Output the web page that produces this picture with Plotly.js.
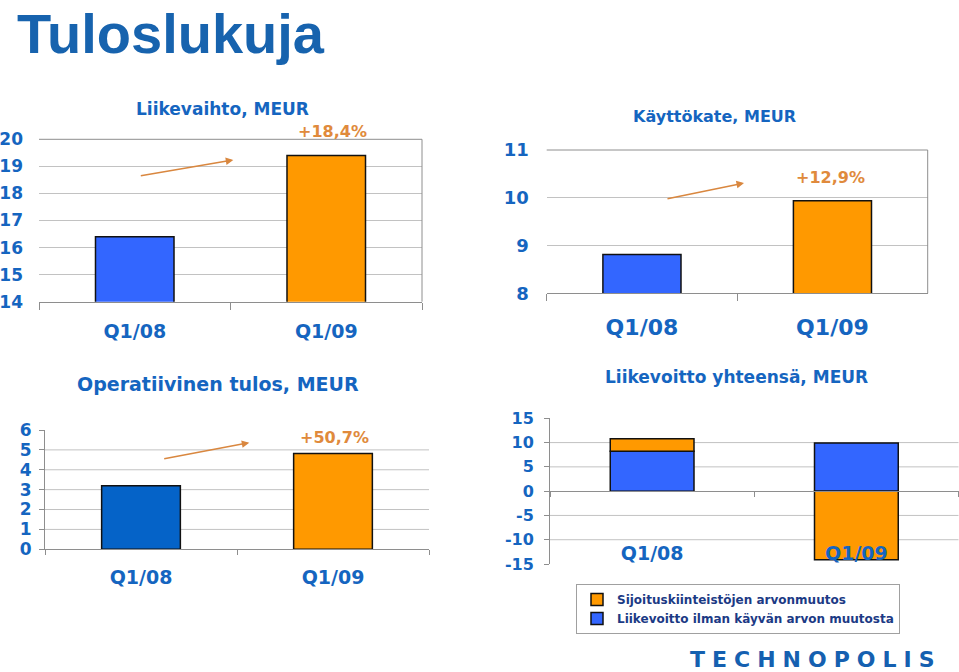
<!DOCTYPE html>
<html><head><meta charset="utf-8">
<script src="https://cdn.plot.ly/plotly-3.0.1.min.js"></script>
<style>html,body{margin:0;padding:0;background:#fff}#chart{width:959px;height:672px}</style>
</head><body><div id="chart"></div>
<script>
// ---- data ----
const categories = ['Q1/08', 'Q1/09'];
const liikevaihto = [16.4, 19.4];
const kayttokate = [8.81, 9.94];
const operatiivinen = [3.2, 4.82];
const liikevoittoIlman = [8.2, 9.9];
const arvonmuutos = [2.6, -14.1];
const growthLabels = ['+18,4%', '+12,9%', '+50,7%'];
const ticks1 = [14, 15, 16, 17, 18, 19, 20];
const ticks2 = [8, 9, 10, 11];
const ticks3 = [0, 1, 2, 3, 4, 5, 6];
const ticks4 = [-15, -10, -5, 0, 5, 10, 15];
const grid3 = [1, 2, 3, 4, 5];
const grid4 = [-10, -5, 5, 10];
const chartTitles = ['Liikevaihto, MEUR', 'Käyttökate, MEUR', 'Operatiivinen tulos, MEUR', 'Liikevoitto yhteensä, MEUR'];
const seriesNames = ['Liikevoitto ilman käyvän arvon muutosta', 'Sijoituskiinteistöjen arvonmuutos'];

// ---- style ----
const W = 959, H = 672;
const px = v => v / W, py = v => 1 - v / H;
const FONT = 'DejaVu Sans, Verdana, sans-serif';
const BLUE_TXT = '#1565C0';
const ORANGE_TXT = '#E08A3C';
const GRID = '#C2C2C2';
const AXIS = '#8E8E8E';
const BAR_BLUE = '#3366FF';
const BAR_DBLUE = '#0563C8';
const BAR_ORANGE = '#FF9900';
const barLine = {color: '#111', width: 1.5};

const traces = [
  {type: 'bar', x: categories, y: liikevaihto, xaxis: 'x', yaxis: 'y', showlegend: false,
   marker: {color: [BAR_BLUE, BAR_ORANGE], line: barLine}, hoverinfo: 'skip'},
  {type: 'bar', x: categories, y: kayttokate, xaxis: 'x2', yaxis: 'y2', showlegend: false,
   marker: {color: [BAR_BLUE, BAR_ORANGE], line: barLine}, hoverinfo: 'skip'},
  {type: 'bar', x: categories, y: operatiivinen, xaxis: 'x3', yaxis: 'y3', showlegend: false,
   marker: {color: [BAR_DBLUE, BAR_ORANGE], line: barLine}, hoverinfo: 'skip'},
  {type: 'bar', x: categories, y: liikevoittoIlman, xaxis: 'x4', yaxis: 'y4', name: seriesNames[0],
   marker: {color: BAR_BLUE, line: barLine}, hoverinfo: 'skip'},
  {type: 'bar', x: categories, y: arvonmuutos, xaxis: 'x4', yaxis: 'y4', name: seriesNames[1],
   marker: {color: BAR_ORANGE, line: barLine}, hoverinfo: 'skip'}
];

function tf(size) { return {family: FONT, size: size, color: BLUE_TXT, weight: 'bold'}; }

function xax(domain, anchor, fs, ticklen, standoff) {
  return {domain: domain, anchor: anchor, type: 'category', showline: true, linecolor: AXIS, linewidth: 1,
    ticks: 'outside', tickson: 'boundaries', ticklen: ticklen, tickcolor: AXIS, tickwidth: 1,
    tickfont: tf(fs), ticklabelstandoff: standoff, showgrid: false, zeroline: false, fixedrange: true};
}

const y4dom = [py(564), py(418.3)];
const y4range = [-15, 15];
const zeroPos = y4dom[0] + (0 - y4range[0]) / (y4range[1] - y4range[0]) * (y4dom[1] - y4dom[0]);

const layout = {
  width: W, height: H, autosize: false,
  margin: {l: 0, r: 0, t: 0, b: 0},
  paper_bgcolor: '#fff', plot_bgcolor: 'rgba(0,0,0,0)',
  barmode: 'relative', bargap: 0.59,
  showlegend: true,
  legend: {x: px(576), y: py(584), xanchor: 'left', yanchor: 'top', traceorder: 'reversed',
    bordercolor: '#A0A0A0', borderwidth: 1, bgcolor: '#fff',
    font: {family: FONT, size: 12, color: '#1C3A85', weight: 'bold'}, itemwidth: 30, tracegroupgap: 0},
  xaxis: xax([px(39), px(422)], 'y', 19, 7, 12),
  yaxis: {domain: [py(301.7), py(139.3)], anchor: 'x', range: [14, 20], tickmode: 'array', tickvals: ticks1,
    showgrid: true, gridcolor: GRID, showline: false, zeroline: false, ticks: '',
    tickfont: tf(17), ticklabelstandoff: 15, fixedrange: true},
  xaxis2: xax([px(546.7), px(927.7)], 'y2', 22, 7, 14),
  yaxis2: {domain: [py(293.3), py(150)], anchor: 'x2', range: [8, 11], tickmode: 'array', tickvals: ticks2,
    showgrid: true, gridcolor: GRID, showline: false, zeroline: false, ticks: '',
    tickfont: tf(18), ticklabelstandoff: 17, fixedrange: true},
  xaxis3: xax([px(45), px(429)], 'y3', 19, 5, 11),
  yaxis3: {domain: [py(549.3), py(430)], anchor: 'x3', range: [0, 6], tickmode: 'array', tickvals: ticks3,
    showgrid: false, showline: true, linecolor: AXIS, zeroline: false, ticks: 'outside', ticklen: 5, tickcolor: AXIS,
    tickfont: tf(17), ticklabelstandoff: 4, fixedrange: true},
  xaxis4: Object.assign(xax([px(550), px(958.5)], 'free', 19, 5, 45), {position: zeroPos}),
  yaxis4: {domain: y4dom, anchor: 'x4', range: y4range, tickmode: 'array', tickvals: ticks4,
    ticktext: ticks4.map(v => String(v)),
    showgrid: false, showline: true, linecolor: AXIS, zeroline: false, ticks: 'outside', ticklen: 5, tickcolor: AXIS,
    tickfont: tf(16), ticklabelstandoff: 7, fixedrange: true},
  shapes: [],
  annotations: []
};

// borders for top charts
[['x', 'y'], ['x2', 'y2']].forEach(([xa, ya]) => {
  layout.shapes.push({type: 'line', xref: xa + ' domain', yref: ya + ' domain', x0: 1, x1: 1, y0: 0, y1: 1,
    line: {color: AXIS, width: 1}});
  layout.shapes.push({type: 'line', xref: xa + ' domain', yref: ya + ' domain', x0: 0, x1: 1, y0: 1, y1: 1,
    line: {color: AXIS, width: 1}});
});
// gridlines for bottom charts
grid3.forEach(v => layout.shapes.push({type: 'line', xref: 'x3 domain', yref: 'y3', x0: 0, x1: 1, y0: v, y1: v,
  layer: 'below', line: {color: GRID, width: 1}}));
grid4.forEach(v => layout.shapes.push({type: 'line', xref: 'x4 domain', yref: 'y4', x0: 0, x1: 1, y0: v, y1: v,
  layer: 'below', line: {color: GRID, width: 1}}));

function ann(text, x, y, size, color, extra) {
  return Object.assign({text: text, xref: 'paper', yref: 'paper', x: px(x), y: py(y), xanchor: 'center', yanchor: 'middle',
    showarrow: false, font: {family: FONT, size: size, color: color, weight: 'bold'}}, extra || {});
}

layout.annotations.push(ann('Tuloslukuja', 15, 33, 56, '#1763AE',
  {xanchor: 'left', font: {family: 'Liberation Sans, Arial, sans-serif', size: 56, color: '#1763AE', weight: 'bold'}}));
layout.annotations.push(ann(chartTitles[0], 222, 109, 17, BLUE_TXT));
layout.annotations.push(ann(chartTitles[1], 714, 116, 16, BLUE_TXT));
layout.annotations.push(ann(chartTitles[2], 217.5, 384, 19, BLUE_TXT));
layout.annotations.push(ann(chartTitles[3], 736.7, 377, 17, BLUE_TXT));
layout.annotations.push(ann(growthLabels[0], 332, 132, 16, ORANGE_TXT));
layout.annotations.push(ann(growthLabels[1], 830, 177, 16, ORANGE_TXT));
layout.annotations.push(ann(growthLabels[2], 334, 437, 16, ORANGE_TXT));

function arrow(hx, hy, tx, ty) {
  return {text: '', xref: 'paper', yref: 'paper', x: px(hx), y: py(hy), ax: tx - hx, ay: ty - hy,
    axref: 'pixel', ayref: 'pixel', showarrow: true, arrowhead: 2, arrowsize: 1, arrowwidth: 1.5,
    arrowcolor: '#D9873F', standoff: 0};
}
layout.annotations.push(arrow(233.3, 160, 139.3, 176));
layout.annotations.push(arrow(744, 183, 666, 199));
layout.annotations.push(arrow(249.3, 442.7, 162.7, 459));

layout.annotations.push(ann('<span style="letter-spacing:7px">TECHNOPOLIS</span>', 816, 659, 22, '#1560B0'));

Plotly.newPlot('chart', traces, layout, {displayModeBar: false, staticPlot: true});
</script>
</body></html>
